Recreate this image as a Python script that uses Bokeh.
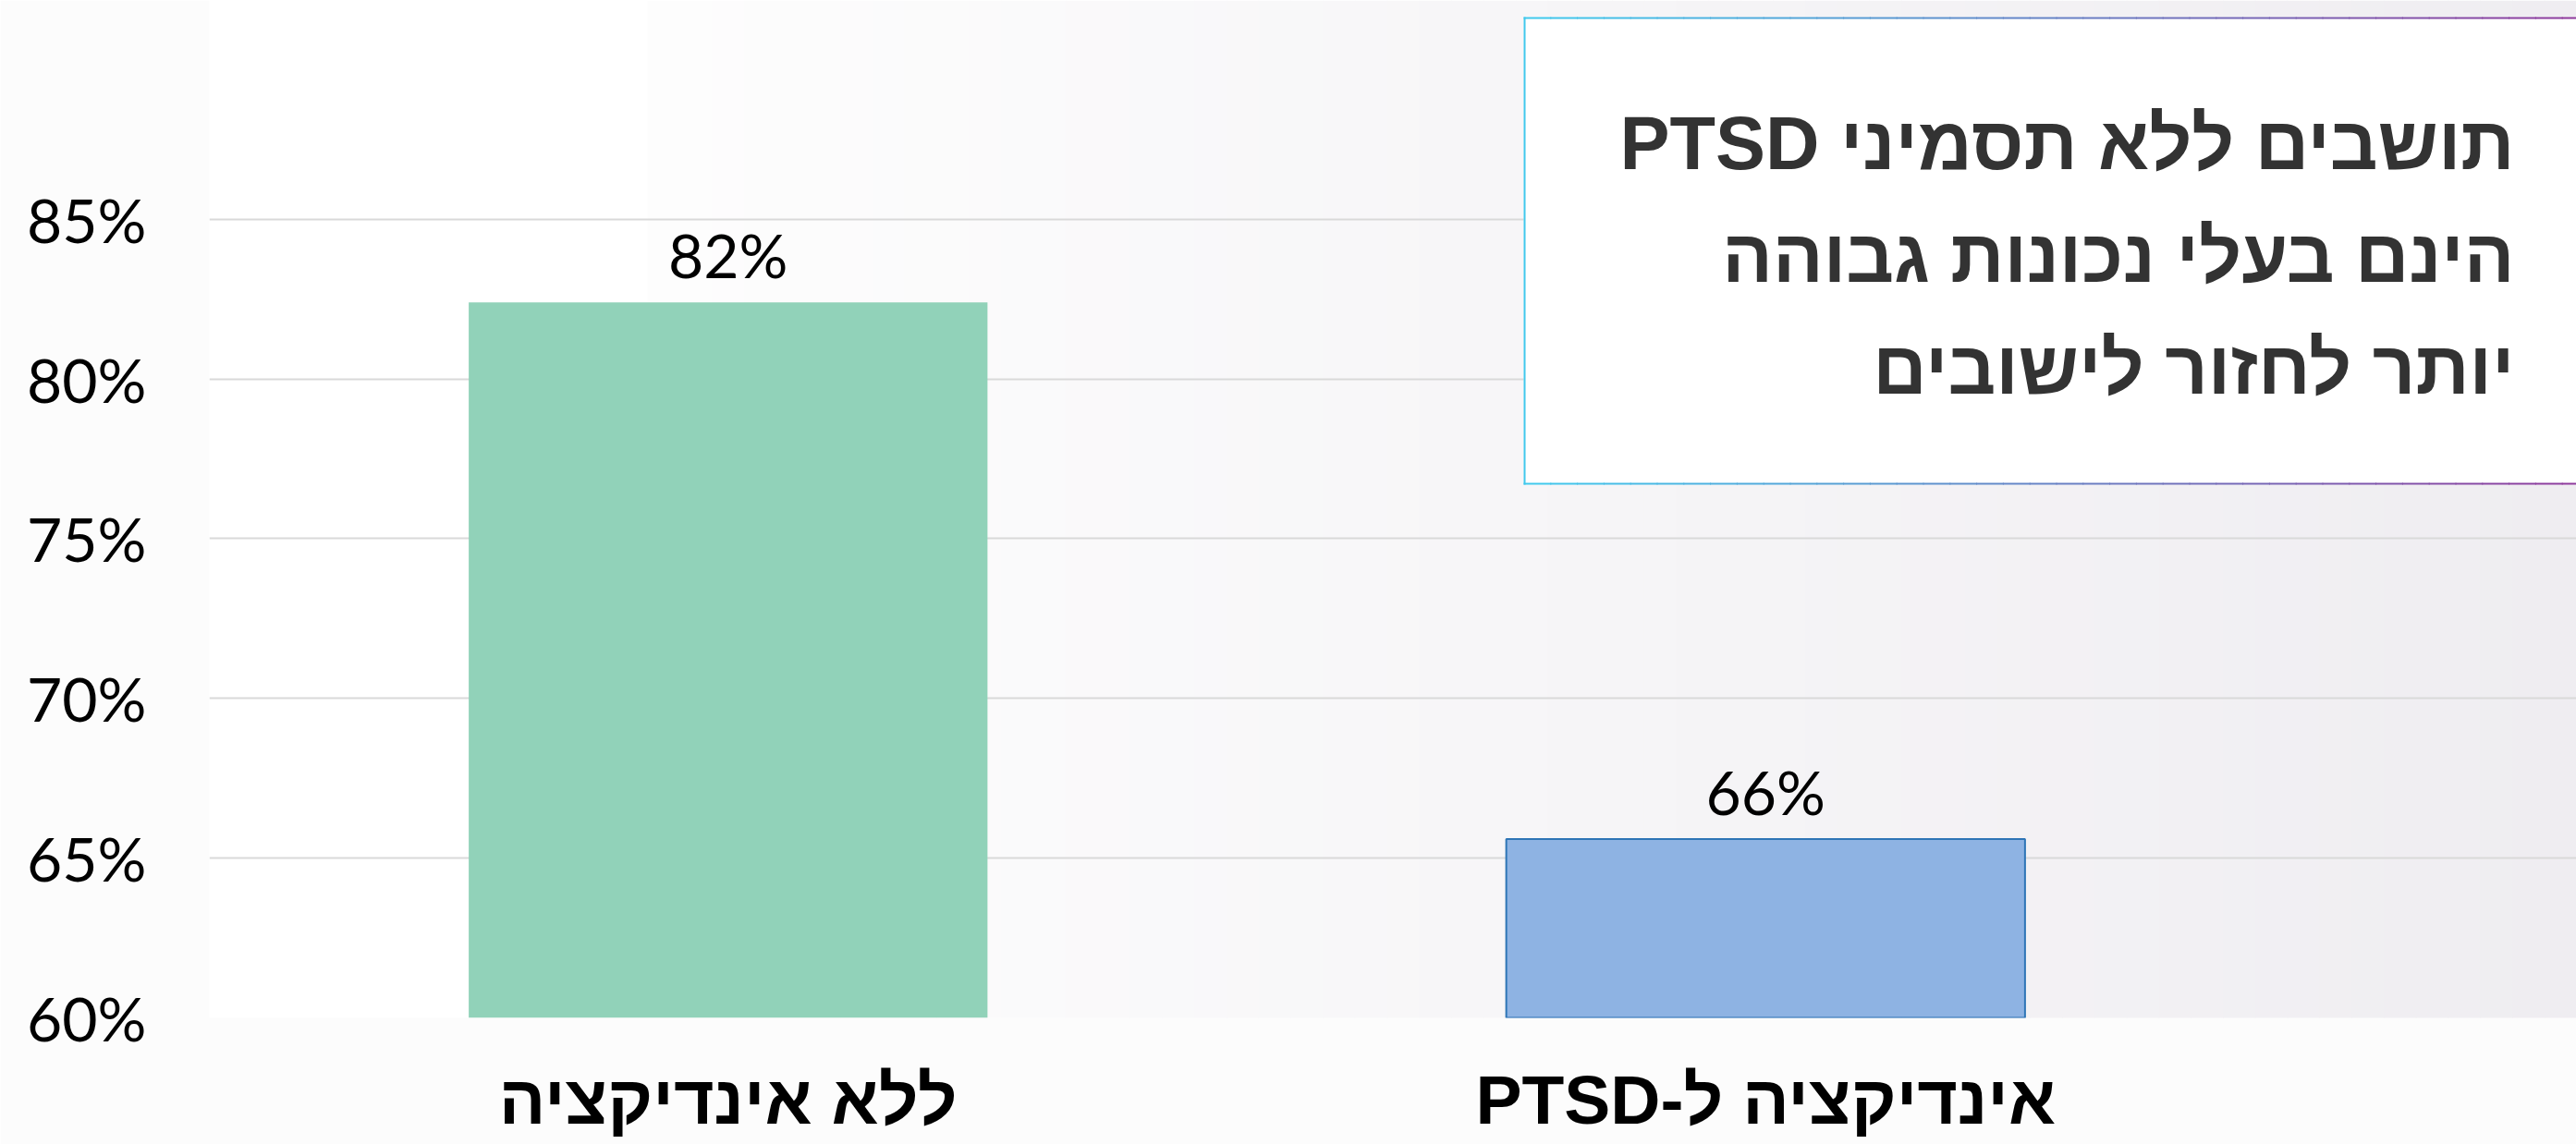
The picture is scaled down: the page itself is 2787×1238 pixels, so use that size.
import numpy as np
from bokeh.plotting import figure
from bokeh.models import (ColumnDataSource, Range1d, FixedTicker, PrintfTickFormatter,
                          LabelSet, Label, BoxAnnotation)
from bokeh.core.properties import value
from bokeh.embed import file_html
from bokeh.resources import INLINE

# ---- data ----
categories = ["ללא אינדיקציה", "אינדיקציה ל-PTSD"]
values = [82.4, 65.6]
y_ticks = [60, 65, 70, 75, 80, 85]
title_lines = ["תושבים ללא תסמיני PTSD", "הינם בעלי נכונות גבוהה", "יותר לחזור לישובים"]
bar_colors = ["#91D2B9", "#8EB3E3"]
bar_line_colors = ["#91D2B9", "#2E75B6"]
bar_line_alpha = [0.0, 1.0]

RLE, PDF = "\u202b", "\u202c"
positions = (np.arange(len(categories)) + 0.5).tolist()
value_labels = [f"{round(v)}%" for v in values]

W, H = 2787, 1238
p = figure(width=W, height=H, x_range=Range1d(0, 2.2815), y_range=Range1d(60, 91.85),
           output_backend="svg", toolbar_location=None,
           min_border_left=226, min_border_right=0, min_border_top=0, min_border_bottom=137)
p.border_fill_color = "#FCFCFC"
p.background_fill_color = None
p.outline_line_color = None

# background gradient strips (decoration)
def hexc(c):
    return "#%02x%02x%02x" % c

def lerp(c1, c2, t):
    return tuple(int(round(a + (b - a) * t)) for a, b in zip(c1, c2))

n_strips = 60
xs = np.linspace(700, W, n_strips + 1)
for i in range(n_strips):
    t = i / (n_strips - 1)
    col = lerp((253, 253, 253), (239, 237, 241), t)
    p.add_layout(BoxAnnotation(left=float(xs[i]), right=float(xs[i + 1]) + 1, top=0, bottom=H,
                               left_units="canvas", right_units="canvas",
                               top_units="canvas", bottom_units="canvas",
                               fill_color=hexc(col), fill_alpha=1.0, line_alpha=0, level="image"))

src = ColumnDataSource(dict(x=positions, val=values, lbl=value_labels, color=bar_colors,
                            line=bar_line_colors, la=bar_line_alpha))
p.vbar(x="x", top="val", bottom=y_ticks[0], width=0.5, source=src,
       fill_color="color", line_color="line", line_alpha="la", line_width=2)

p.add_layout(LabelSet(x="x", y="val", text="lbl", source=src, y_offset=26,
                      text_align="center", text_baseline="alphabetic",
                      text_font=value("Lato"), text_font_size="66px", text_color="#000000"))

# axes
p.yaxis.ticker = FixedTicker(ticks=y_ticks)
p.yaxis.formatter = PrintfTickFormatter(format="%d%%")
p.yaxis.axis_line_color = None
p.yaxis.major_tick_line_color = None
p.yaxis.minor_tick_line_color = None
p.yaxis.major_tick_out = 0
p.yaxis.major_tick_in = 0
p.yaxis.major_label_standoff = 68
p.yaxis.major_label_text_font = "Lato"
p.yaxis.major_label_text_font_size = "66px"
p.yaxis.major_label_text_color = "#000000"

p.xaxis.ticker = FixedTicker(ticks=positions)
p.xaxis.major_label_overrides = {pos: RLE + c + PDF for pos, c in zip(positions, categories)}
p.xaxis.axis_line_color = None
p.xaxis.major_tick_line_color = None
p.xaxis.minor_tick_line_color = None
p.xaxis.major_tick_out = 0
p.xaxis.major_tick_in = 0
p.xaxis.major_label_standoff = 46
p.xaxis.major_label_text_font = "Liberation Sans"
p.xaxis.major_label_text_font_style = "bold"
p.xaxis.major_label_text_font_size = "75px"
p.xaxis.major_label_text_color = "#000000"

p.xgrid.grid_line_color = None
p.ygrid.ticker = FixedTicker(ticks=y_ticks)
p.ygrid.grid_line_color = "#D9D9D9"
p.ygrid.grid_line_width = 2
p.ygrid.bounds = (0, len(categories))

# title box
p.add_layout(BoxAnnotation(left=1648, right=2800, top=18, bottom=524,
                           left_units="canvas", right_units="canvas",
                           top_units="canvas", bottom_units="canvas",
                           fill_color="#FFFFFF", fill_alpha=1.0, line_alpha=0))
c_start, c_end = (64, 200, 236), (142, 58, 156)
n_seg = 40
ex = np.linspace(1648, 2800, n_seg + 1)
for i in range(n_seg):
    col = hexc(lerp(c_start, c_end, i / (n_seg - 1)))
    for yt in (18, 522):
        p.add_layout(BoxAnnotation(left=float(ex[i]), right=float(ex[i + 1]) + 1, top=yt, bottom=yt + 2,
                                   left_units="canvas", right_units="canvas",
                                   top_units="canvas", bottom_units="canvas",
                                   fill_color=col, fill_alpha=1.0, line_alpha=0))
p.add_layout(BoxAnnotation(left=1648, right=1650, top=18, bottom=524,
                           left_units="canvas", right_units="canvas",
                           top_units="canvas", bottom_units="canvas",
                           fill_color=hexc(c_start), fill_alpha=1.0, line_alpha=0))

for line, yb in zip(title_lines, [154, 276, 397]):
    p.add_layout(Label(x=2720, y=yb, x_units="canvas", y_units="canvas",
                       text=RLE + line + PDF, text_align="right", text_baseline="alphabetic",
                       text_font="Liberation Sans", text_font_style="bold",
                       text_font_size="81px", text_color="#333333"))

open("out.html", "w").write(file_html(p, INLINE))
